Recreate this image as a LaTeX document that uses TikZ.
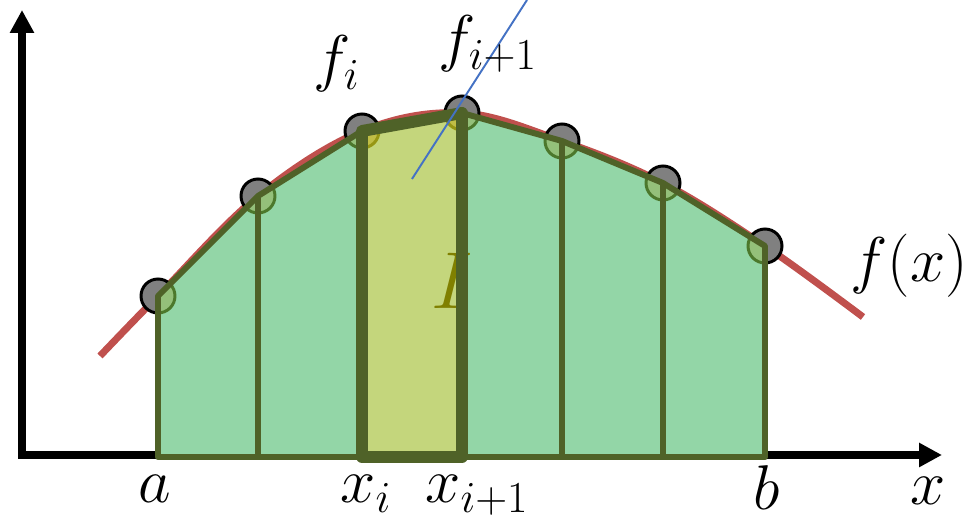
\RequirePackage{fix-cm}
\documentclass[tikz,border=0pt]{standalone}
\usepackage{xcolor}
\usepackage{tikz}
\usetikzlibrary{arrows.meta}

\definecolor{olivedark}{RGB}{79,98,40}
\definecolor{trapgreen}{RGB}{147,214,167}
\definecolor{trapyellow}{RGB}{196,214,124}
\definecolor{curvered}{RGB}{192,80,77}
\definecolor{lineblue}{RGB}{68,114,196}
\definecolor{dotgreen}{RGB}{76,120,44}
\definecolor{dotgreenfill}{RGB}{148,192,122}
\definecolor{dotyellow}{RGB}{150,150,20}
\definecolor{dotyellowfill}{RGB}{192,190,70}
\definecolor{labelolive}{RGB}{128,128,0}

\begin{document}
\begin{tikzpicture}[x=0.02cm,y=-0.02cm,>={Triangle[length=13pt,width=13pt]},
  trapline/.style={olivedark,line width=3.4pt,line join=round},
  trapbold/.style={olivedark,line width=6.8pt,line join=round,line cap=round},
  sample/.style={draw=black,fill=gray,line width=1.7pt},
  samplegreen/.style={draw=dotgreen,fill=dotgreenfill,line width=1.7pt},
  sampleyellow/.style={draw=dotyellow,fill=dotyellowfill,line width=1.7pt},
  lbl/.style={font=\fontsize{36}{42}\selectfont,inner sep=0pt,anchor=base west}]
  \useasboundingbox (0,0) rectangle (975,523);
  % sample points on the curve and their feet on the axis
  \coordinate (v1) at (158,296); \coordinate (b1) at (158,457);
  \coordinate (v2) at (258,196); \coordinate (b2) at (258,457);
  \coordinate (v3) at (362,131); \coordinate (b3) at (362,457);
  \coordinate (v4) at (462,113); \coordinate (b4) at (462,457);
  \coordinate (v5) at (562,141); \coordinate (b5) at (562,457);
  \coordinate (v6) at (663,183); \coordinate (b6) at (663,457);
  \coordinate (v7) at (765,246); \coordinate (b7) at (765,457);
  % axes
  \draw[->,line width=4pt] (18,455) -- (942,455);
  \draw[->,line width=4pt] (22,458) -- (22,10);
  % f(x)
  \draw[curvered,line width=4pt] plot[smooth,tension=0.6] coordinates
    {(100,356) (158,296) (258,196) (362,131) (462,113) (562,141) (663,183) (765,246) (863,317)};
  % sample circles
  \foreach \k in {1,...,7} \draw[sample] (v\k) circle (0.34cm);
  % trapezoids (fill)
  \fill[trapgreen] (b1) -- (v1) -- (v2) -- (v3) -- (v4) -- (v5) -- (v6) -- (v7) -- (b7) -- cycle;
  \begin{scope}
    \clip (b1) -- (v1) -- (v2) -- (v3) -- (v4) -- (v5) -- (v6) -- (v7) -- (b7) -- cycle;
    \foreach \k in {1,...,7} \draw[samplegreen] (v\k) circle (0.34cm);
  \end{scope}
  \fill[trapyellow] (b3) -- (v3) -- (v4) -- (b4) -- cycle;
  \begin{scope}
    \clip (b3) -- (v3) -- (v4) -- (b4) -- cycle;
    \foreach \k in {3,4} \draw[sampleyellow] (v\k) circle (0.34cm);
  \end{scope}
  % trapezoid edges
  \draw[trapline] (b1) -- (v1) -- (v2) -- (v3) -- (v4) -- (v5) -- (v6) -- (v7) -- (b7) -- cycle;
  \foreach \k in {2,5,6} \draw[trapline] (b\k) -- (v\k);
  % the highlighted strip I
  \node[labelolive,font=\fontsize{46}{50}\selectfont,inner sep=0pt] (lblI) at (452,281) {$I$};
  \draw[trapbold] (b3) -- (v3) -- (v4) -- (b4) -- cycle;
  % thin blue line
  \draw[lineblue,line width=1.1pt] (412,179) -- (527,0);
  % labels
  \node[lbl] (lbla) at (138,503) {$a$};
  \node[lbl] (lblxi) at (340,503) {$x_i$};
  \node[lbl] (lblxii) at (425,503) {$x_{i+1}$};
  \node[lbl] (lblb) at (753,510) {$b$};
  \node[lbl] (lblx) at (910,505) {$x$};
  \node[lbl] (lblfi) at (313,80) {$f_i$};
  \node[lbl] (lblfii) at (438,60) {$f_{i+1}$};
  \node[lbl] (lblfx) at (850,282) {$f(x)$};
\end{tikzpicture}
\end{document}
